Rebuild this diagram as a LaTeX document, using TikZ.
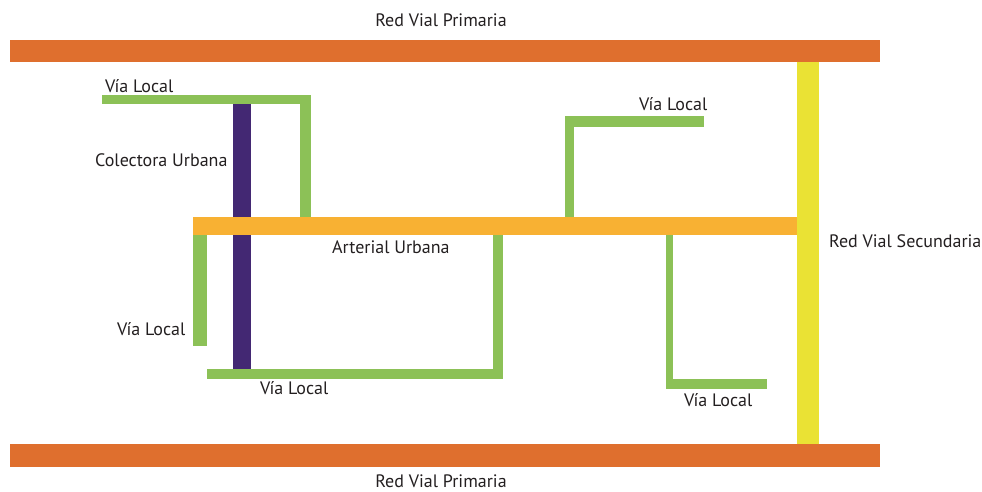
\documentclass[tikz,border=0pt]{standalone}
\usepackage{fontspec}
\setmainfont{PT Sans}
\usepackage{tikz}
\definecolor{primaria}{HTML}{DF6F2E}
\definecolor{secundaria}{HTML}{EAE234}
\definecolor{arterial}{HTML}{F8B133}
\definecolor{colectora}{HTML}{432873}
\definecolor{localverde}{HTML}{8CC157}
\definecolor{texto}{HTML}{231F20}

\begin{document}
\begin{tikzpicture}[x=1pt, y=-1pt,
    primariaroad/.style={fill=primaria},
    secundariaroad/.style={fill=secundaria},
    arterialroad/.style={fill=arterial},
    colectoraroad/.style={fill=colectora},
    localroad/.style={fill=localverde},
    etiqueta/.style={font=\fontsize{18}{20}\selectfont, text=texto, inner sep=0pt},
]
\useasboundingbox (0,0) rectangle (982,491);
% red vial primaria y secundaria
\fill[primariaroad] (10,40) rectangle (880,62);
\fill[primariaroad] (10,444) rectangle (880,467);
\fill[secundariaroad] (797,62) rectangle (819,444);
% colectora (bajo la arterial)
\fill[colectoraroad] (233,104) rectangle (251,369);
% vias locales
\fill[localroad] (102,95) rectangle (311,104);
\fill[localroad] (300,104) rectangle (311,217);
\fill[localroad] (565,116) rectangle (704,127);
\fill[localroad] (565,127) rectangle (574,217);
\fill[localroad] (193,235) rectangle (207,346);
\fill[localroad] (493,235) rectangle (503,379);
\fill[localroad] (207,369) rectangle (503,379);
\fill[localroad] (666,235) rectangle (673,389);
\fill[localroad] (666,379) rectangle (767,389);
% arterial
\fill[arterialroad] (193,217) rectangle (797,235);
% etiquetas
\node[etiqueta, anchor=base] (primsup) at (441,26) {Red Vial Primaria};
\node[etiqueta, anchor=base] (priminf) at (441,487) {Red Vial Primaria};
\node[etiqueta, anchor=base west] (secundaria) at (829,247) {Red Vial Secundaria};
\node[etiqueta, anchor=base west] (arterial) at (332,253) {Arterial Urbana};
\node[etiqueta, anchor=base west] (colectora) at (95,166) {Colectora Urbana};
\node[etiqueta, anchor=base west] (local1) at (105,92) {Vía Local};
\node[etiqueta, anchor=base west] (local2) at (639,110) {Vía Local};
\node[etiqueta, anchor=base west] (local3) at (117,335) {Vía Local};
\node[etiqueta, anchor=base west] (local4) at (260,394) {Vía Local};
\node[etiqueta, anchor=base west] (local5) at (684,406) {Vía Local};
\end{tikzpicture}
\end{document}
